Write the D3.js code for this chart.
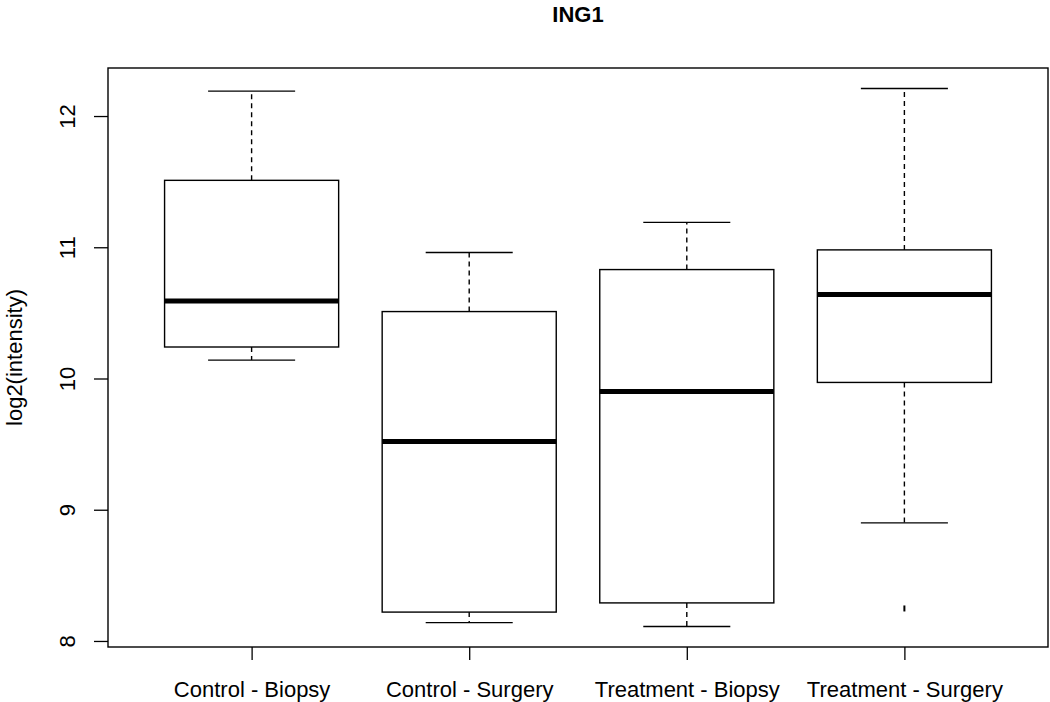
<!DOCTYPE html>
<html>
<head>
<meta charset="utf-8">
<script src="https://cdn.jsdelivr.net/npm/d3@7"></script>
<style>
  body { margin: 0; background: #fff; }
  svg text { font-family: "Liberation Sans", Arial, sans-serif; fill: #000; }
</style>
</head>
<body>
<svg class="chart"></svg>
<script>
// boxplot stats
var groups   = ["Control - Biopsy", "Control - Surgery", "Treatment - Biopsy", "Treatment - Surgery"];
var whiskLo  = [10.14, 8.14, 8.11, 8.90];
var q1       = [10.24, 8.22, 8.29, 9.97];
var medians  = [10.59, 9.52, 9.90, 10.64];
var q3       = [11.51, 10.51, 10.83, 10.98];
var whiskHi  = [12.19, 10.96, 11.19, 12.21];
var outliers = [[], [], [], [8.24]];
var yTicks   = [8, 9, 10, 11, 12];

var chartWidth = 1050, chartHeight = 702;
var plotLeft = 108, plotRight = 1048, plotTop = 68, plotBottom = 647;

var svg = d3.select(".chart").attr("width", chartWidth).attr("height", chartHeight);

var x = d3.scaleLinear().domain([0.34, 4.66]).range([plotLeft, plotRight]);
var y = d3.scaleLinear().domain([7.954, 12.366]).range([plotBottom, plotTop]);
var boxW = 0.8 * (x(2) - x(1));

// y axis
var yAxis = svg.append("g")
  .attr("transform", "translate(" + plotLeft + ",0)")
  .call(d3.axisLeft(y).tickValues(yTicks).tickSize(14).tickPadding(0).tickFormat(d3.format("d")));
yAxis.select(".domain").remove();
yAxis.selectAll("line").attr("stroke", "#000").attr("stroke-width", 1.3);
yAxis.selectAll("text")
  .attr("transform", "rotate(-90)")
  .attr("x", 0).attr("y", -33).attr("dy", 0)
  .style("text-anchor", "middle").style("font-size", "22px");

// x axis
var xAxis = svg.append("g")
  .attr("transform", "translate(0," + plotBottom + ")")
  .call(d3.axisBottom(x).tickValues([1, 2, 3, 4]).tickSize(13).tickPadding(0)
    .tickFormat(function(d) { return groups[d - 1]; }));
xAxis.select(".domain").remove();
xAxis.selectAll("line").attr("stroke", "#000").attr("stroke-width", 1.3);
xAxis.selectAll("text").attr("y", 50).attr("dy", 0).style("font-size", "22px");

// frame
svg.append("rect")
  .attr("x", plotLeft).attr("y", plotTop)
  .attr("width", plotRight - plotLeft).attr("height", plotBottom - plotTop)
  .attr("fill", "none").attr("stroke", "#000").attr("stroke-width", 1.4);

var boxes = svg.selectAll(".box").data(groups).enter().append("g").attr("class", "box");

// whiskers
boxes.append("line")
  .attr("x1", function(d, i) { return x(i + 1); }).attr("x2", function(d, i) { return x(i + 1); })
  .attr("y1", function(d, i) { return y(q3[i]); }).attr("y2", function(d, i) { return y(whiskHi[i]); })
  .attr("stroke", "#000").attr("stroke-width", 1.4).attr("stroke-dasharray", "5,4");
boxes.append("line")
  .attr("x1", function(d, i) { return x(i + 1); }).attr("x2", function(d, i) { return x(i + 1); })
  .attr("y1", function(d, i) { return y(q1[i]); }).attr("y2", function(d, i) { return y(whiskLo[i]); })
  .attr("stroke", "#000").attr("stroke-width", 1.4).attr("stroke-dasharray", "5,4");

// staples
[whiskHi, whiskLo].forEach(function(arr) {
  boxes.append("line")
    .attr("x1", function(d, i) { return x(i + 1) - boxW / 4; })
    .attr("x2", function(d, i) { return x(i + 1) + boxW / 4; })
    .attr("y1", function(d, i) { return y(arr[i]); }).attr("y2", function(d, i) { return y(arr[i]); })
    .attr("stroke", "#000").attr("stroke-width", 1.4);
});

// boxes
boxes.append("rect")
  .attr("x", function(d, i) { return x(i + 1) - boxW / 2; })
  .attr("y", function(d, i) { return y(q3[i]); })
  .attr("width", boxW)
  .attr("height", function(d, i) { return y(q1[i]) - y(q3[i]); })
  .attr("fill", "#fff").attr("stroke", "#000").attr("stroke-width", 1.4);

// medians
boxes.append("line")
  .attr("x1", function(d, i) { return x(i + 1) - boxW / 2; })
  .attr("x2", function(d, i) { return x(i + 1) + boxW / 2; })
  .attr("y1", function(d, i) { return y(medians[i]); }).attr("y2", function(d, i) { return y(medians[i]); })
  .attr("stroke", "#000").attr("stroke-width", 5);

// outliers
groups.forEach(function(g, i) {
  outliers[i].forEach(function(v) {
    svg.append("line")
      .attr("x1", x(i + 1)).attr("x2", x(i + 1))
      .attr("y1", y(v) - 4).attr("y2", y(v) + 2)
      .attr("stroke", "#000").attr("stroke-width", 2);
  });
});

// title and y label
svg.append("text")
  .attr("x", (plotLeft + plotRight) / 2).attr("y", 22)
  .style("text-anchor", "middle").style("font-size", "22px").style("font-weight", "bold")
  .text("ING1");

svg.append("text")
  .attr("transform", "translate(22," + ((plotTop + plotBottom) / 2) + ") rotate(-90)")
  .style("text-anchor", "middle").style("font-size", "22px")
  .text("log2(intensity)");
</script>
</body>
</html>
